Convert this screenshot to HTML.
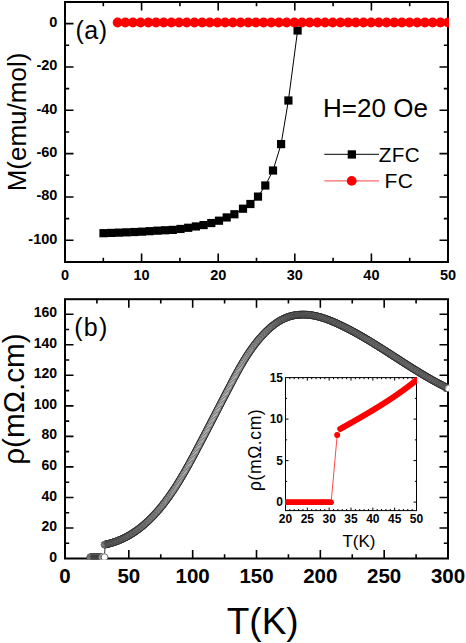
<!DOCTYPE html>
<html><head><meta charset="utf-8"><style>
html,body{margin:0;padding:0;background:#fff;}
svg{display:block;}
</style></head><body>
<svg width="466" height="643" viewBox="0 0 466 643">
<rect width="466" height="643" fill="#fff"/>
<defs><clipPath id="clipA"><rect x="60" y="0" width="389" height="270"/></clipPath><clipPath id="clipB"><rect x="0" y="290" width="449.1" height="269.7"/></clipPath><clipPath id="clipI"><rect x="285" y="377" width="132" height="135"/></clipPath></defs>
<rect x="65" y="2" width="383" height="260" fill="none" stroke="#000" stroke-width="2"/>
<path d="M103.3 262V257.8M103.3 2V6.2M141.6 262V253.5M141.6 2V10.5M179.9 262V257.8M179.9 2V6.2M218.2 262V253.5M218.2 2V10.5M256.5 262V257.8M256.5 2V6.2M294.8 262V253.5M294.8 2V10.5M333.1 262V257.8M333.1 2V6.2M371.4 262V253.5M371.4 2V10.5M409.7 262V257.8M409.7 2V6.2M65 240.3H73.5M448 240.3H439.5M65 218.63H69.2M448 218.63H443.8M65 196.96H73.5M448 196.96H439.5M65 175.29H69.2M448 175.29H443.8M65 153.62H73.5M448 153.62H439.5M65 131.95H69.2M448 131.95H443.8M65 110.28H73.5M448 110.28H439.5M65 88.61H69.2M448 88.61H443.8M65 66.94H73.5M448 66.94H439.5M65 45.27H69.2M448 45.27H443.8M65 23.6H73.5M448 23.6H439.5" stroke="#000" stroke-width="1.6" fill="none"/>
<text x="57.4" y="243.8" text-anchor="end" font-family="Liberation Sans, sans-serif" font-weight="bold" font-size="14.5">-100</text>
<text x="57.4" y="200.46" text-anchor="end" font-family="Liberation Sans, sans-serif" font-weight="bold" font-size="14.5">-80</text>
<text x="57.4" y="157.12" text-anchor="end" font-family="Liberation Sans, sans-serif" font-weight="bold" font-size="14.5">-60</text>
<text x="57.4" y="113.78" text-anchor="end" font-family="Liberation Sans, sans-serif" font-weight="bold" font-size="14.5">-40</text>
<text x="57.4" y="70.44" text-anchor="end" font-family="Liberation Sans, sans-serif" font-weight="bold" font-size="14.5">-20</text>
<text x="57.4" y="27.1" text-anchor="end" font-family="Liberation Sans, sans-serif" font-weight="bold" font-size="14.5">0</text>
<text x="65" y="280.3" text-anchor="middle" font-family="Liberation Sans, sans-serif" font-weight="bold" font-size="14.5">0</text>
<text x="141.6" y="280.3" text-anchor="middle" font-family="Liberation Sans, sans-serif" font-weight="bold" font-size="14.5">10</text>
<text x="218.2" y="280.3" text-anchor="middle" font-family="Liberation Sans, sans-serif" font-weight="bold" font-size="14.5">20</text>
<text x="294.8" y="280.3" text-anchor="middle" font-family="Liberation Sans, sans-serif" font-weight="bold" font-size="14.5">30</text>
<text x="371.4" y="280.3" text-anchor="middle" font-family="Liberation Sans, sans-serif" font-weight="bold" font-size="14.5">40</text>
<text x="448" y="280.3" text-anchor="middle" font-family="Liberation Sans, sans-serif" font-weight="bold" font-size="14.5">50</text>
<text transform="translate(25.6 122) rotate(-90)" text-anchor="middle" font-family="Liberation Sans, sans-serif" font-size="26">M(emu/mol)</text>
<text x="75.4" y="38.5" font-family="Liberation Sans, sans-serif" font-size="25" letter-spacing="0.6">(a)</text>
<text x="323.1" y="117.4" font-family="Liberation Sans, sans-serif" font-size="26">H=20 Oe</text>
<polyline points="103.5,233.2 111.2,232.92 118.9,232.64 126.6,232.34 134.3,232.03 142,231.67 149.7,231.17 157.4,230.67 165.1,230.26 172.8,229.9 180.5,228.96 188.2,227.78 195.9,226.45 203.6,225.07 211.3,223.05 219,220.7 226.7,217.43 234.4,214.25 243,208.7 250.4,204 258,196.6 265.3,185.5 273,170.5 281.1,144.1 288.4,100.5 297.6,30.5" fill="none" stroke="#000" stroke-width="1"/>
<g fill="#000"><rect x="99.4" y="229.1" width="8.2" height="8.2"/><rect x="107.1" y="228.82" width="8.2" height="8.2"/><rect x="114.8" y="228.54" width="8.2" height="8.2"/><rect x="122.5" y="228.24" width="8.2" height="8.2"/><rect x="130.2" y="227.93" width="8.2" height="8.2"/><rect x="137.9" y="227.57" width="8.2" height="8.2"/><rect x="145.6" y="227.07" width="8.2" height="8.2"/><rect x="153.3" y="226.57" width="8.2" height="8.2"/><rect x="161" y="226.16" width="8.2" height="8.2"/><rect x="168.7" y="225.8" width="8.2" height="8.2"/><rect x="176.4" y="224.86" width="8.2" height="8.2"/><rect x="184.1" y="223.68" width="8.2" height="8.2"/><rect x="191.8" y="222.35" width="8.2" height="8.2"/><rect x="199.5" y="220.97" width="8.2" height="8.2"/><rect x="207.2" y="218.95" width="8.2" height="8.2"/><rect x="214.9" y="216.6" width="8.2" height="8.2"/><rect x="222.6" y="213.33" width="8.2" height="8.2"/><rect x="230.3" y="210.15" width="8.2" height="8.2"/><rect x="238.9" y="204.6" width="8.2" height="8.2"/><rect x="246.3" y="199.9" width="8.2" height="8.2"/><rect x="253.9" y="192.5" width="8.2" height="8.2"/><rect x="261.2" y="181.4" width="8.2" height="8.2"/><rect x="268.9" y="166.4" width="8.2" height="8.2"/><rect x="277" y="140" width="8.2" height="8.2"/><rect x="284.3" y="96.4" width="8.2" height="8.2"/><rect x="293.5" y="26.4" width="8.2" height="8.2"/></g>
<g clip-path="url(#clipA)" fill="#f00"><circle cx="117.6" cy="22.5" r="4.9"/><circle cx="125.28" cy="22.5" r="4.9"/><circle cx="132.97" cy="22.5" r="4.9"/><circle cx="140.65" cy="22.5" r="4.9"/><circle cx="148.33" cy="22.5" r="4.9"/><circle cx="156.02" cy="22.5" r="4.9"/><circle cx="163.7" cy="22.5" r="4.9"/><circle cx="171.39" cy="22.5" r="4.9"/><circle cx="179.07" cy="22.5" r="4.9"/><circle cx="186.75" cy="22.5" r="4.9"/><circle cx="194.44" cy="22.5" r="4.9"/><circle cx="202.12" cy="22.5" r="4.9"/><circle cx="209.8" cy="22.5" r="4.9"/><circle cx="217.49" cy="22.5" r="4.9"/><circle cx="225.17" cy="22.5" r="4.9"/><circle cx="232.86" cy="22.5" r="4.9"/><circle cx="240.54" cy="22.5" r="4.9"/><circle cx="248.22" cy="22.5" r="4.9"/><circle cx="255.91" cy="22.5" r="4.9"/><circle cx="263.59" cy="22.5" r="4.9"/><circle cx="271.27" cy="22.5" r="4.9"/><circle cx="278.96" cy="22.5" r="4.9"/><circle cx="286.64" cy="22.5" r="4.9"/><circle cx="294.33" cy="22.5" r="4.9"/><circle cx="302.01" cy="22.5" r="4.9"/><circle cx="309.69" cy="22.5" r="4.9"/><circle cx="317.38" cy="22.5" r="4.9"/><circle cx="325.06" cy="22.5" r="4.9"/><circle cx="332.74" cy="22.5" r="4.9"/><circle cx="340.43" cy="22.5" r="4.9"/><circle cx="348.11" cy="22.5" r="4.9"/><circle cx="355.8" cy="22.5" r="4.9"/><circle cx="363.48" cy="22.5" r="4.9"/><circle cx="371.16" cy="22.5" r="4.9"/><circle cx="378.85" cy="22.5" r="4.9"/><circle cx="386.53" cy="22.5" r="4.9"/><circle cx="394.21" cy="22.5" r="4.9"/><circle cx="401.9" cy="22.5" r="4.9"/><circle cx="409.58" cy="22.5" r="4.9"/><circle cx="417.27" cy="22.5" r="4.9"/><circle cx="424.95" cy="22.5" r="4.9"/><circle cx="432.63" cy="22.5" r="4.9"/><circle cx="440.32" cy="22.5" r="4.9"/><circle cx="448" cy="22.5" r="4.9"/></g>
<line x1="324.3" y1="154.3" x2="379" y2="154.3" stroke="#333" stroke-width="1.2"/>
<rect x="347.7" y="150.3" width="8.3" height="8.3" fill="#000"/>
<text x="378.8" y="161.6" font-family="Liberation Sans, sans-serif" font-size="20.7" letter-spacing="0.3">ZFC</text>
<line x1="324.3" y1="180.9" x2="379" y2="180.9" stroke="#ff6a6a" stroke-width="1.3"/>
<circle cx="351.7" cy="180.9" r="4.9" fill="#f00"/>
<text x="384.6" y="188.3" font-family="Liberation Sans, sans-serif" font-size="21" letter-spacing="0.3">FC</text>
<rect x="65" y="299.2" width="383" height="259.3" fill="none" stroke="#000" stroke-width="2"/>
<path d="M96.92 558.5V554.3M96.92 299.2V303.4M128.83 558.5V550M128.83 299.2V307.7M160.75 558.5V554.3M160.75 299.2V303.4M192.67 558.5V550M192.67 299.2V307.7M224.59 558.5V554.3M224.59 299.2V303.4M256.5 558.5V550M256.5 299.2V307.7M288.42 558.5V554.3M288.42 299.2V303.4M320.34 558.5V550M320.34 299.2V307.7M352.26 558.5V554.3M352.26 299.2V303.4M384.18 558.5V550M384.18 299.2V307.7M416.09 558.5V554.3M416.09 299.2V303.4M65 543.24H69.2M448 543.24H443.8M65 527.97H73.5M448 527.97H439.5M65 512.71H69.2M448 512.71H443.8M65 497.44H73.5M448 497.44H439.5M65 482.18H69.2M448 482.18H443.8M65 466.91H73.5M448 466.91H439.5M65 451.64H69.2M448 451.64H443.8M65 436.38H73.5M448 436.38H439.5M65 421.12H69.2M448 421.12H443.8M65 405.85H73.5M448 405.85H439.5M65 390.59H69.2M448 390.59H443.8M65 375.32H73.5M448 375.32H439.5M65 360.06H69.2M448 360.06H443.8M65 344.79H73.5M448 344.79H439.5M65 329.52H69.2M448 329.52H443.8M65 314.26H73.5M448 314.26H439.5" stroke="#000" stroke-width="1.6" fill="none"/>
<text x="57" y="561.6" text-anchor="end" font-family="Liberation Sans, sans-serif" font-weight="bold" font-size="14">0</text>
<text x="57" y="531.07" text-anchor="end" font-family="Liberation Sans, sans-serif" font-weight="bold" font-size="14">20</text>
<text x="57" y="500.54" text-anchor="end" font-family="Liberation Sans, sans-serif" font-weight="bold" font-size="14">40</text>
<text x="57" y="470.01" text-anchor="end" font-family="Liberation Sans, sans-serif" font-weight="bold" font-size="14">60</text>
<text x="57" y="439.48" text-anchor="end" font-family="Liberation Sans, sans-serif" font-weight="bold" font-size="14">80</text>
<text x="57" y="408.95" text-anchor="end" font-family="Liberation Sans, sans-serif" font-weight="bold" font-size="14">100</text>
<text x="57" y="378.42" text-anchor="end" font-family="Liberation Sans, sans-serif" font-weight="bold" font-size="14">120</text>
<text x="57" y="347.89" text-anchor="end" font-family="Liberation Sans, sans-serif" font-weight="bold" font-size="14">140</text>
<text x="57" y="317.36" text-anchor="end" font-family="Liberation Sans, sans-serif" font-weight="bold" font-size="14">160</text>
<text x="65" y="582.6" text-anchor="middle" font-family="Liberation Sans, sans-serif" font-weight="bold" font-size="20.5">0</text>
<text x="128.83" y="582.6" text-anchor="middle" font-family="Liberation Sans, sans-serif" font-weight="bold" font-size="20.5">50</text>
<text x="192.67" y="582.6" text-anchor="middle" font-family="Liberation Sans, sans-serif" font-weight="bold" font-size="20.5">100</text>
<text x="256.5" y="582.6" text-anchor="middle" font-family="Liberation Sans, sans-serif" font-weight="bold" font-size="20.5">150</text>
<text x="320.34" y="582.6" text-anchor="middle" font-family="Liberation Sans, sans-serif" font-weight="bold" font-size="20.5">200</text>
<text x="384.18" y="582.6" text-anchor="middle" font-family="Liberation Sans, sans-serif" font-weight="bold" font-size="20.5">250</text>
<text x="448.01" y="582.6" text-anchor="middle" font-family="Liberation Sans, sans-serif" font-weight="bold" font-size="20.5">300</text>
<text x="74.3" y="336.1" font-family="Liberation Sans, sans-serif" font-size="25" letter-spacing="1.2">(b)</text>
<text transform="translate(24.2 399.1) rotate(-90)" text-anchor="middle" font-family="Liberation Sans, sans-serif" font-size="29.7">&#961;(m&#937;.cm)</text>
<text x="262.7" y="634.3" text-anchor="middle" font-family="Liberation Sans, sans-serif" font-size="37">T(K)</text>
<line x1="104.6" y1="553.5" x2="105" y2="548" stroke="#000" stroke-width="0.8"/>
<g clip-path="url(#clipB)" fill="#fff" stroke="#1a1a1a" stroke-width="0.6"><circle cx="90.2" cy="557.2" r="3.45"/><circle cx="90.8" cy="557.2" r="3.45"/><circle cx="91.4" cy="557.2" r="3.45"/><circle cx="92" cy="557.2" r="3.45"/><circle cx="92.6" cy="557.2" r="3.45"/><circle cx="93.2" cy="557.2" r="3.45"/><circle cx="93.8" cy="557.2" r="3.45"/><circle cx="94.4" cy="557.2" r="3.45"/><circle cx="95" cy="557.2" r="3.45"/><circle cx="95.6" cy="557.2" r="3.45"/><circle cx="96.2" cy="557.2" r="3.45"/><circle cx="96.8" cy="557.2" r="3.45"/><circle cx="97.4" cy="557.2" r="3.45"/><circle cx="98" cy="557.2" r="3.45"/><circle cx="98.6" cy="557.2" r="3.45"/><circle cx="99.2" cy="557.2" r="3.45"/><circle cx="99.8" cy="557.2" r="3.45"/><circle cx="100.4" cy="557.2" r="3.45"/><circle cx="101" cy="557.2" r="3.45"/><circle cx="101.6" cy="557.2" r="3.45"/><circle cx="104.5" cy="557.2" r="3.45"/><circle cx="104.46" cy="544.66" r="3.45"/><circle cx="105.1" cy="544.53" r="3.45"/><circle cx="105.74" cy="544.4" r="3.45"/><circle cx="106.38" cy="544.26" r="3.45"/><circle cx="107.02" cy="544.12" r="3.45"/><circle cx="107.66" cy="543.97" r="3.45"/><circle cx="108.3" cy="543.81" r="3.45"/><circle cx="108.94" cy="543.65" r="3.45"/><circle cx="109.58" cy="543.48" r="3.45"/><circle cx="110.22" cy="543.31" r="3.45"/><circle cx="110.86" cy="543.13" r="3.45"/><circle cx="111.5" cy="542.94" r="3.45"/><circle cx="112.14" cy="542.75" r="3.45"/><circle cx="112.78" cy="542.55" r="3.45"/><circle cx="113.42" cy="542.35" r="3.45"/><circle cx="114.06" cy="542.14" r="3.45"/><circle cx="114.7" cy="541.93" r="3.45"/><circle cx="115.34" cy="541.7" r="3.45"/><circle cx="115.98" cy="541.48" r="3.45"/><circle cx="116.62" cy="541.24" r="3.45"/><circle cx="117.26" cy="541" r="3.45"/><circle cx="117.9" cy="540.75" r="3.45"/><circle cx="118.54" cy="540.5" r="3.45"/><circle cx="119.18" cy="540.24" r="3.45"/><circle cx="119.82" cy="539.97" r="3.45"/><circle cx="120.46" cy="539.7" r="3.45"/><circle cx="121.1" cy="539.42" r="3.45"/><circle cx="121.74" cy="539.14" r="3.45"/><circle cx="122.38" cy="538.84" r="3.45"/><circle cx="123.02" cy="538.54" r="3.45"/><circle cx="123.66" cy="538.24" r="3.45"/><circle cx="124.3" cy="537.92" r="3.45"/><circle cx="124.94" cy="537.6" r="3.45"/><circle cx="125.58" cy="537.28" r="3.45"/><circle cx="126.22" cy="536.94" r="3.45"/><circle cx="126.86" cy="536.6" r="3.45"/><circle cx="127.5" cy="536.26" r="3.45"/><circle cx="128.14" cy="535.9" r="3.45"/><circle cx="128.78" cy="535.54" r="3.45"/><circle cx="129.42" cy="535.17" r="3.45"/><circle cx="130.06" cy="534.8" r="3.45"/><circle cx="130.7" cy="534.41" r="3.45"/><circle cx="131.34" cy="534.02" r="3.45"/><circle cx="131.98" cy="533.62" r="3.45"/><circle cx="132.62" cy="533.22" r="3.45"/><circle cx="133.26" cy="532.81" r="3.45"/><circle cx="133.9" cy="532.39" r="3.45"/><circle cx="134.54" cy="531.96" r="3.45"/><circle cx="135.18" cy="531.52" r="3.45"/><circle cx="135.82" cy="531.08" r="3.45"/><circle cx="136.46" cy="530.63" r="3.45"/><circle cx="137.1" cy="530.17" r="3.45"/><circle cx="137.74" cy="529.71" r="3.45"/><circle cx="138.38" cy="529.23" r="3.45"/><circle cx="139.02" cy="528.75" r="3.45"/><circle cx="139.66" cy="528.26" r="3.45"/><circle cx="140.3" cy="527.76" r="3.45"/><circle cx="140.94" cy="527.26" r="3.45"/><circle cx="141.58" cy="526.75" r="3.45"/><circle cx="142.22" cy="526.22" r="3.45"/><circle cx="142.86" cy="525.69" r="3.45"/><circle cx="143.5" cy="525.16" r="3.45"/><circle cx="144.14" cy="524.61" r="3.45"/><circle cx="144.78" cy="524.05" r="3.45"/><circle cx="145.42" cy="523.49" r="3.45"/><circle cx="146.06" cy="522.92" r="3.45"/><circle cx="146.7" cy="522.34" r="3.45"/><circle cx="147.34" cy="521.75" r="3.45"/><circle cx="147.98" cy="521.16" r="3.45"/><circle cx="148.62" cy="520.55" r="3.45"/><circle cx="149.26" cy="519.94" r="3.45"/><circle cx="149.9" cy="519.32" r="3.45"/><circle cx="150.54" cy="518.68" r="3.45"/><circle cx="151.18" cy="518.04" r="3.45"/><circle cx="151.82" cy="517.4" r="3.45"/><circle cx="152.46" cy="516.74" r="3.45"/><circle cx="153.1" cy="516.07" r="3.45"/><circle cx="153.74" cy="515.4" r="3.45"/><circle cx="154.38" cy="514.71" r="3.45"/><circle cx="155.02" cy="514.02" r="3.45"/><circle cx="155.66" cy="513.32" r="3.45"/><circle cx="156.3" cy="512.61" r="3.45"/><circle cx="156.94" cy="511.89" r="3.45"/><circle cx="157.58" cy="511.16" r="3.45"/><circle cx="158.22" cy="510.42" r="3.45"/><circle cx="158.86" cy="509.67" r="3.45"/><circle cx="159.5" cy="508.92" r="3.45"/><circle cx="160.14" cy="508.15" r="3.45"/><circle cx="160.78" cy="507.38" r="3.45"/><circle cx="161.42" cy="506.59" r="3.45"/><circle cx="162.06" cy="505.8" r="3.45"/><circle cx="162.7" cy="505" r="3.45"/><circle cx="163.34" cy="504.19" r="3.45"/><circle cx="163.98" cy="503.37" r="3.45"/><circle cx="164.62" cy="502.54" r="3.45"/><circle cx="165.26" cy="501.7" r="3.45"/><circle cx="165.9" cy="500.85" r="3.45"/><circle cx="166.54" cy="499.99" r="3.45"/><circle cx="167.18" cy="499.13" r="3.45"/><circle cx="167.82" cy="498.25" r="3.45"/><circle cx="168.46" cy="497.36" r="3.45"/><circle cx="169.1" cy="496.47" r="3.45"/><circle cx="169.74" cy="495.57" r="3.45"/><circle cx="170.38" cy="494.65" r="3.45"/><circle cx="171.02" cy="493.73" r="3.45"/><circle cx="171.66" cy="492.8" r="3.45"/><circle cx="172.3" cy="491.85" r="3.45"/><circle cx="172.94" cy="490.9" r="3.45"/><circle cx="173.58" cy="489.94" r="3.45"/><circle cx="174.22" cy="488.97" r="3.45"/><circle cx="174.86" cy="487.99" r="3.45"/><circle cx="175.5" cy="487" r="3.45"/><circle cx="176.14" cy="486" r="3.45"/><circle cx="176.78" cy="485" r="3.45"/><circle cx="177.42" cy="483.98" r="3.45"/><circle cx="178.06" cy="482.95" r="3.45"/><circle cx="178.7" cy="481.92" r="3.45"/><circle cx="179.34" cy="480.87" r="3.45"/><circle cx="179.98" cy="479.82" r="3.45"/><circle cx="180.62" cy="478.76" r="3.45"/><circle cx="181.26" cy="477.69" r="3.45"/><circle cx="181.9" cy="476.61" r="3.45"/><circle cx="182.54" cy="475.52" r="3.45"/><circle cx="183.18" cy="474.43" r="3.45"/><circle cx="183.82" cy="473.32" r="3.45"/><circle cx="184.46" cy="472.21" r="3.45"/><circle cx="185.1" cy="471.09" r="3.45"/><circle cx="185.74" cy="469.97" r="3.45"/><circle cx="186.38" cy="468.83" r="3.45"/><circle cx="187.02" cy="467.69" r="3.45"/><circle cx="187.66" cy="466.55" r="3.45"/><circle cx="188.3" cy="465.39" r="3.45"/><circle cx="188.94" cy="464.23" r="3.45"/><circle cx="189.58" cy="463.07" r="3.45"/><circle cx="190.22" cy="461.9" r="3.45"/><circle cx="190.86" cy="460.72" r="3.45"/><circle cx="191.5" cy="459.54" r="3.45"/><circle cx="192.14" cy="458.36" r="3.45"/><circle cx="192.78" cy="457.17" r="3.45"/><circle cx="193.42" cy="455.97" r="3.45"/><circle cx="194.06" cy="454.78" r="3.45"/><circle cx="194.7" cy="453.58" r="3.45"/><circle cx="195.34" cy="452.37" r="3.45"/><circle cx="195.98" cy="451.17" r="3.45"/><circle cx="196.62" cy="449.96" r="3.45"/><circle cx="197.26" cy="448.75" r="3.45"/><circle cx="197.9" cy="447.54" r="3.45"/><circle cx="198.54" cy="446.33" r="3.45"/><circle cx="199.18" cy="445.12" r="3.45"/><circle cx="199.82" cy="443.9" r="3.45"/><circle cx="200.46" cy="442.69" r="3.45"/><circle cx="201.1" cy="441.47" r="3.45"/><circle cx="201.74" cy="440.25" r="3.45"/><circle cx="202.38" cy="439.03" r="3.45"/><circle cx="203.02" cy="437.8" r="3.45"/><circle cx="203.66" cy="436.58" r="3.45"/><circle cx="204.3" cy="435.35" r="3.45"/><circle cx="204.94" cy="434.13" r="3.45"/><circle cx="205.58" cy="432.9" r="3.45"/><circle cx="206.22" cy="431.67" r="3.45"/><circle cx="206.86" cy="430.44" r="3.45"/><circle cx="207.5" cy="429.21" r="3.45"/><circle cx="208.14" cy="427.98" r="3.45"/><circle cx="208.78" cy="426.75" r="3.45"/><circle cx="209.42" cy="425.51" r="3.45"/><circle cx="210.06" cy="424.28" r="3.45"/><circle cx="210.7" cy="423.04" r="3.45"/><circle cx="211.34" cy="421.81" r="3.45"/><circle cx="211.98" cy="420.57" r="3.45"/><circle cx="212.62" cy="419.34" r="3.45"/><circle cx="213.26" cy="418.1" r="3.45"/><circle cx="213.9" cy="416.86" r="3.45"/><circle cx="214.54" cy="415.63" r="3.45"/><circle cx="215.18" cy="414.39" r="3.45"/><circle cx="215.82" cy="413.15" r="3.45"/><circle cx="216.46" cy="411.91" r="3.45"/><circle cx="217.1" cy="410.68" r="3.45"/><circle cx="217.74" cy="409.44" r="3.45"/><circle cx="218.38" cy="408.2" r="3.45"/><circle cx="219.02" cy="406.96" r="3.45"/><circle cx="219.66" cy="405.73" r="3.45"/><circle cx="220.3" cy="404.49" r="3.45"/><circle cx="220.94" cy="403.25" r="3.45"/><circle cx="221.58" cy="402.02" r="3.45"/><circle cx="222.22" cy="400.78" r="3.45"/><circle cx="222.86" cy="399.55" r="3.45"/><circle cx="223.5" cy="398.31" r="3.45"/><circle cx="224.14" cy="397.08" r="3.45"/><circle cx="224.78" cy="395.84" r="3.45"/><circle cx="225.42" cy="394.61" r="3.45"/><circle cx="226.06" cy="393.38" r="3.45"/><circle cx="226.7" cy="392.15" r="3.45"/><circle cx="227.34" cy="390.92" r="3.45"/><circle cx="227.98" cy="389.69" r="3.45"/><circle cx="228.62" cy="388.46" r="3.45"/><circle cx="229.26" cy="387.24" r="3.45"/><circle cx="229.9" cy="386.01" r="3.45"/><circle cx="230.54" cy="384.79" r="3.45"/><circle cx="231.18" cy="383.56" r="3.45"/><circle cx="231.82" cy="382.34" r="3.45"/><circle cx="232.46" cy="381.13" r="3.45"/><circle cx="233.1" cy="379.91" r="3.45"/><circle cx="233.74" cy="378.7" r="3.45"/><circle cx="234.38" cy="377.5" r="3.45"/><circle cx="235.02" cy="376.3" r="3.45"/><circle cx="235.66" cy="375.11" r="3.45"/><circle cx="236.3" cy="373.93" r="3.45"/><circle cx="236.94" cy="372.75" r="3.45"/><circle cx="237.58" cy="371.59" r="3.45"/><circle cx="238.22" cy="370.43" r="3.45"/><circle cx="238.86" cy="369.28" r="3.45"/><circle cx="239.5" cy="368.14" r="3.45"/><circle cx="240.14" cy="367.01" r="3.45"/><circle cx="240.78" cy="365.9" r="3.45"/><circle cx="241.42" cy="364.79" r="3.45"/><circle cx="242.06" cy="363.7" r="3.45"/><circle cx="242.7" cy="362.61" r="3.45"/><circle cx="243.34" cy="361.54" r="3.45"/><circle cx="243.98" cy="360.48" r="3.45"/><circle cx="244.62" cy="359.44" r="3.45"/><circle cx="245.26" cy="358.4" r="3.45"/><circle cx="245.9" cy="357.38" r="3.45"/><circle cx="246.54" cy="356.37" r="3.45"/><circle cx="247.18" cy="355.38" r="3.45"/><circle cx="247.82" cy="354.4" r="3.45"/><circle cx="248.46" cy="353.43" r="3.45"/><circle cx="249.1" cy="352.47" r="3.45"/><circle cx="249.74" cy="351.53" r="3.45"/><circle cx="250.38" cy="350.6" r="3.45"/><circle cx="251.02" cy="349.68" r="3.45"/><circle cx="251.66" cy="348.78" r="3.45"/><circle cx="252.3" cy="347.88" r="3.45"/><circle cx="252.94" cy="347.01" r="3.45"/><circle cx="253.58" cy="346.14" r="3.45"/><circle cx="254.22" cy="345.29" r="3.45"/><circle cx="254.86" cy="344.44" r="3.45"/><circle cx="255.5" cy="343.62" r="3.45"/><circle cx="256.14" cy="342.8" r="3.45"/><circle cx="256.78" cy="342" r="3.45"/><circle cx="257.42" cy="341.2" r="3.45"/><circle cx="258.06" cy="340.42" r="3.45"/><circle cx="258.7" cy="339.65" r="3.45"/><circle cx="259.34" cy="338.9" r="3.45"/><circle cx="259.98" cy="338.15" r="3.45"/><circle cx="260.62" cy="337.41" r="3.45"/><circle cx="261.26" cy="336.69" r="3.45"/><circle cx="261.9" cy="335.98" r="3.45"/><circle cx="262.54" cy="335.28" r="3.45"/><circle cx="263.18" cy="334.59" r="3.45"/><circle cx="263.82" cy="333.91" r="3.45"/><circle cx="264.46" cy="333.24" r="3.45"/><circle cx="265.1" cy="332.58" r="3.45"/><circle cx="265.74" cy="331.94" r="3.45"/><circle cx="266.38" cy="331.31" r="3.45"/><circle cx="267.02" cy="330.69" r="3.45"/><circle cx="267.66" cy="330.08" r="3.45"/><circle cx="268.3" cy="329.48" r="3.45"/><circle cx="268.94" cy="328.9" r="3.45"/><circle cx="269.58" cy="328.32" r="3.45"/><circle cx="270.22" cy="327.76" r="3.45"/><circle cx="270.86" cy="327.21" r="3.45"/><circle cx="271.5" cy="326.67" r="3.45"/><circle cx="272.14" cy="326.15" r="3.45"/><circle cx="272.78" cy="325.64" r="3.45"/><circle cx="273.42" cy="325.14" r="3.45"/><circle cx="274.06" cy="324.65" r="3.45"/><circle cx="274.7" cy="324.17" r="3.45"/><circle cx="275.34" cy="323.7" r="3.45"/><circle cx="275.98" cy="323.25" r="3.45"/><circle cx="276.62" cy="322.81" r="3.45"/><circle cx="277.26" cy="322.38" r="3.45"/><circle cx="277.9" cy="321.97" r="3.45"/><circle cx="278.54" cy="321.56" r="3.45"/><circle cx="279.18" cy="321.17" r="3.45"/><circle cx="279.82" cy="320.79" r="3.45"/><circle cx="280.46" cy="320.42" r="3.45"/><circle cx="281.1" cy="320.07" r="3.45"/><circle cx="281.74" cy="319.72" r="3.45"/><circle cx="282.38" cy="319.39" r="3.45"/><circle cx="283.02" cy="319.07" r="3.45"/><circle cx="283.66" cy="318.76" r="3.45"/><circle cx="284.3" cy="318.47" r="3.45"/><circle cx="284.94" cy="318.18" r="3.45"/><circle cx="285.58" cy="317.91" r="3.45"/><circle cx="286.22" cy="317.65" r="3.45"/><circle cx="286.86" cy="317.4" r="3.45"/><circle cx="287.5" cy="317.17" r="3.45"/><circle cx="288.14" cy="316.94" r="3.45"/><circle cx="288.78" cy="316.73" r="3.45"/><circle cx="289.42" cy="316.53" r="3.45"/><circle cx="290.06" cy="316.34" r="3.45"/><circle cx="290.7" cy="316.16" r="3.45"/><circle cx="291.34" cy="315.99" r="3.45"/><circle cx="291.98" cy="315.84" r="3.45"/><circle cx="292.62" cy="315.69" r="3.45"/><circle cx="293.26" cy="315.55" r="3.45"/><circle cx="293.9" cy="315.43" r="3.45"/><circle cx="294.54" cy="315.31" r="3.45"/><circle cx="295.18" cy="315.2" r="3.45"/><circle cx="295.82" cy="315.11" r="3.45"/><circle cx="296.46" cy="315.02" r="3.45"/><circle cx="297.1" cy="314.94" r="3.45"/><circle cx="297.74" cy="314.87" r="3.45"/><circle cx="298.38" cy="314.81" r="3.45"/><circle cx="299.02" cy="314.75" r="3.45"/><circle cx="299.66" cy="314.71" r="3.45"/><circle cx="300.3" cy="314.67" r="3.45"/><circle cx="300.94" cy="314.64" r="3.45"/><circle cx="301.58" cy="314.62" r="3.45"/><circle cx="302.22" cy="314.61" r="3.45"/><circle cx="302.86" cy="314.6" r="3.45"/><circle cx="303.5" cy="314.6" r="3.45"/><circle cx="304.14" cy="314.61" r="3.45"/><circle cx="304.78" cy="314.63" r="3.45"/><circle cx="305.42" cy="314.65" r="3.45"/><circle cx="306.06" cy="314.69" r="3.45"/><circle cx="306.7" cy="314.73" r="3.45"/><circle cx="307.34" cy="314.77" r="3.45"/><circle cx="307.98" cy="314.83" r="3.45"/><circle cx="308.62" cy="314.89" r="3.45"/><circle cx="309.26" cy="314.96" r="3.45"/><circle cx="309.9" cy="315.03" r="3.45"/><circle cx="310.54" cy="315.11" r="3.45"/><circle cx="311.18" cy="315.2" r="3.45"/><circle cx="311.82" cy="315.3" r="3.45"/><circle cx="312.46" cy="315.4" r="3.45"/><circle cx="313.1" cy="315.51" r="3.45"/><circle cx="313.74" cy="315.62" r="3.45"/><circle cx="314.38" cy="315.75" r="3.45"/><circle cx="315.02" cy="315.88" r="3.45"/><circle cx="315.66" cy="316.01" r="3.45"/><circle cx="316.3" cy="316.15" r="3.45"/><circle cx="316.94" cy="316.3" r="3.45"/><circle cx="317.58" cy="316.45" r="3.45"/><circle cx="318.22" cy="316.61" r="3.45"/><circle cx="318.86" cy="316.78" r="3.45"/><circle cx="319.5" cy="316.95" r="3.45"/><circle cx="320.14" cy="317.13" r="3.45"/><circle cx="320.78" cy="317.31" r="3.45"/><circle cx="321.42" cy="317.5" r="3.45"/><circle cx="322.06" cy="317.69" r="3.45"/><circle cx="322.7" cy="317.89" r="3.45"/><circle cx="323.34" cy="318.09" r="3.45"/><circle cx="323.98" cy="318.3" r="3.45"/><circle cx="324.62" cy="318.52" r="3.45"/><circle cx="325.26" cy="318.74" r="3.45"/><circle cx="325.9" cy="318.96" r="3.45"/><circle cx="326.54" cy="319.19" r="3.45"/><circle cx="327.18" cy="319.42" r="3.45"/><circle cx="327.82" cy="319.66" r="3.45"/><circle cx="328.46" cy="319.9" r="3.45"/><circle cx="329.1" cy="320.15" r="3.45"/><circle cx="329.74" cy="320.4" r="3.45"/><circle cx="330.38" cy="320.65" r="3.45"/><circle cx="331.02" cy="320.91" r="3.45"/><circle cx="331.66" cy="321.17" r="3.45"/><circle cx="332.3" cy="321.44" r="3.45"/><circle cx="332.94" cy="321.71" r="3.45"/><circle cx="333.58" cy="321.98" r="3.45"/><circle cx="334.22" cy="322.26" r="3.45"/><circle cx="334.86" cy="322.54" r="3.45"/><circle cx="335.5" cy="322.82" r="3.45"/><circle cx="336.14" cy="323.1" r="3.45"/><circle cx="336.78" cy="323.39" r="3.45"/><circle cx="337.42" cy="323.68" r="3.45"/><circle cx="338.06" cy="323.98" r="3.45"/><circle cx="338.7" cy="324.28" r="3.45"/><circle cx="339.34" cy="324.58" r="3.45"/><circle cx="339.98" cy="324.88" r="3.45"/><circle cx="340.62" cy="325.18" r="3.45"/><circle cx="341.26" cy="325.49" r="3.45"/><circle cx="341.9" cy="325.79" r="3.45"/><circle cx="342.54" cy="326.1" r="3.45"/><circle cx="343.18" cy="326.42" r="3.45"/><circle cx="343.82" cy="326.73" r="3.45"/><circle cx="344.46" cy="327.05" r="3.45"/><circle cx="345.1" cy="327.37" r="3.45"/><circle cx="345.74" cy="327.69" r="3.45"/><circle cx="346.38" cy="328.01" r="3.45"/><circle cx="347.02" cy="328.33" r="3.45"/><circle cx="347.66" cy="328.66" r="3.45"/><circle cx="348.3" cy="328.99" r="3.45"/><circle cx="348.94" cy="329.32" r="3.45"/><circle cx="349.58" cy="329.65" r="3.45"/><circle cx="350.22" cy="329.99" r="3.45"/><circle cx="350.86" cy="330.33" r="3.45"/><circle cx="351.5" cy="330.66" r="3.45"/><circle cx="352.14" cy="331.01" r="3.45"/><circle cx="352.78" cy="331.35" r="3.45"/><circle cx="353.42" cy="331.69" r="3.45"/><circle cx="354.06" cy="332.04" r="3.45"/><circle cx="354.7" cy="332.39" r="3.45"/><circle cx="355.34" cy="332.74" r="3.45"/><circle cx="355.98" cy="333.09" r="3.45"/><circle cx="356.62" cy="333.45" r="3.45"/><circle cx="357.26" cy="333.8" r="3.45"/><circle cx="357.9" cy="334.16" r="3.45"/><circle cx="358.54" cy="334.52" r="3.45"/><circle cx="359.18" cy="334.88" r="3.45"/><circle cx="359.82" cy="335.24" r="3.45"/><circle cx="360.46" cy="335.61" r="3.45"/><circle cx="361.1" cy="335.98" r="3.45"/><circle cx="361.74" cy="336.34" r="3.45"/><circle cx="362.38" cy="336.71" r="3.45"/><circle cx="363.02" cy="337.09" r="3.45"/><circle cx="363.66" cy="337.46" r="3.45"/><circle cx="364.3" cy="337.83" r="3.45"/><circle cx="364.94" cy="338.21" r="3.45"/><circle cx="365.58" cy="338.59" r="3.45"/><circle cx="366.22" cy="338.97" r="3.45"/><circle cx="366.86" cy="339.35" r="3.45"/><circle cx="367.5" cy="339.73" r="3.45"/><circle cx="368.14" cy="340.11" r="3.45"/><circle cx="368.78" cy="340.5" r="3.45"/><circle cx="369.42" cy="340.88" r="3.45"/><circle cx="370.06" cy="341.27" r="3.45"/><circle cx="370.7" cy="341.66" r="3.45"/><circle cx="371.34" cy="342.05" r="3.45"/><circle cx="371.98" cy="342.44" r="3.45"/><circle cx="372.62" cy="342.83" r="3.45"/><circle cx="373.26" cy="343.22" r="3.45"/><circle cx="373.9" cy="343.62" r="3.45"/><circle cx="374.54" cy="344.01" r="3.45"/><circle cx="375.18" cy="344.41" r="3.45"/><circle cx="375.82" cy="344.81" r="3.45"/><circle cx="376.46" cy="345.21" r="3.45"/><circle cx="377.1" cy="345.61" r="3.45"/><circle cx="377.74" cy="346.01" r="3.45"/><circle cx="378.38" cy="346.41" r="3.45"/><circle cx="379.02" cy="346.81" r="3.45"/><circle cx="379.66" cy="347.21" r="3.45"/><circle cx="380.3" cy="347.62" r="3.45"/><circle cx="380.94" cy="348.02" r="3.45"/><circle cx="381.58" cy="348.43" r="3.45"/><circle cx="382.22" cy="348.83" r="3.45"/><circle cx="382.86" cy="349.24" r="3.45"/><circle cx="383.5" cy="349.65" r="3.45"/><circle cx="384.14" cy="350.06" r="3.45"/><circle cx="384.78" cy="350.46" r="3.45"/><circle cx="385.42" cy="350.87" r="3.45"/><circle cx="386.06" cy="351.28" r="3.45"/><circle cx="386.7" cy="351.69" r="3.45"/><circle cx="387.34" cy="352.1" r="3.45"/><circle cx="387.98" cy="352.51" r="3.45"/><circle cx="388.62" cy="352.93" r="3.45"/><circle cx="389.26" cy="353.34" r="3.45"/><circle cx="389.9" cy="353.75" r="3.45"/><circle cx="390.54" cy="354.16" r="3.45"/><circle cx="391.18" cy="354.57" r="3.45"/><circle cx="391.82" cy="354.99" r="3.45"/><circle cx="392.46" cy="355.4" r="3.45"/><circle cx="393.1" cy="355.81" r="3.45"/><circle cx="393.74" cy="356.22" r="3.45"/><circle cx="394.38" cy="356.64" r="3.45"/><circle cx="395.02" cy="357.05" r="3.45"/><circle cx="395.66" cy="357.46" r="3.45"/><circle cx="396.3" cy="357.88" r="3.45"/><circle cx="396.94" cy="358.29" r="3.45"/><circle cx="397.58" cy="358.7" r="3.45"/><circle cx="398.22" cy="359.12" r="3.45"/><circle cx="398.86" cy="359.53" r="3.45"/><circle cx="399.5" cy="359.94" r="3.45"/><circle cx="400.14" cy="360.35" r="3.45"/><circle cx="400.78" cy="360.76" r="3.45"/><circle cx="401.42" cy="361.18" r="3.45"/><circle cx="402.06" cy="361.59" r="3.45"/><circle cx="402.7" cy="362" r="3.45"/><circle cx="403.34" cy="362.41" r="3.45"/><circle cx="403.98" cy="362.82" r="3.45"/><circle cx="404.62" cy="363.23" r="3.45"/><circle cx="405.26" cy="363.64" r="3.45"/><circle cx="405.9" cy="364.04" r="3.45"/><circle cx="406.54" cy="364.45" r="3.45"/><circle cx="407.18" cy="364.86" r="3.45"/><circle cx="407.82" cy="365.27" r="3.45"/><circle cx="408.46" cy="365.67" r="3.45"/><circle cx="409.1" cy="366.08" r="3.45"/><circle cx="409.74" cy="366.48" r="3.45"/><circle cx="410.38" cy="366.88" r="3.45"/><circle cx="411.02" cy="367.29" r="3.45"/><circle cx="411.66" cy="367.69" r="3.45"/><circle cx="412.3" cy="368.09" r="3.45"/><circle cx="412.94" cy="368.49" r="3.45"/><circle cx="413.58" cy="368.89" r="3.45"/><circle cx="414.22" cy="369.29" r="3.45"/><circle cx="414.86" cy="369.68" r="3.45"/><circle cx="415.5" cy="370.08" r="3.45"/><circle cx="416.14" cy="370.48" r="3.45"/><circle cx="416.78" cy="370.87" r="3.45"/><circle cx="417.42" cy="371.26" r="3.45"/><circle cx="418.06" cy="371.65" r="3.45"/><circle cx="418.7" cy="372.04" r="3.45"/><circle cx="419.34" cy="372.43" r="3.45"/><circle cx="419.98" cy="372.82" r="3.45"/><circle cx="420.62" cy="373.21" r="3.45"/><circle cx="421.26" cy="373.59" r="3.45"/><circle cx="421.9" cy="373.98" r="3.45"/><circle cx="422.54" cy="374.36" r="3.45"/><circle cx="423.18" cy="374.74" r="3.45"/><circle cx="423.82" cy="375.12" r="3.45"/><circle cx="424.46" cy="375.5" r="3.45"/><circle cx="425.1" cy="375.88" r="3.45"/><circle cx="425.74" cy="376.25" r="3.45"/><circle cx="426.38" cy="376.63" r="3.45"/><circle cx="427.02" cy="377" r="3.45"/><circle cx="427.66" cy="377.37" r="3.45"/><circle cx="428.3" cy="377.74" r="3.45"/><circle cx="428.94" cy="378.11" r="3.45"/><circle cx="429.58" cy="378.48" r="3.45"/><circle cx="430.22" cy="378.84" r="3.45"/><circle cx="430.86" cy="379.2" r="3.45"/><circle cx="431.5" cy="379.56" r="3.45"/><circle cx="432.14" cy="379.92" r="3.45"/><circle cx="432.78" cy="380.28" r="3.45"/><circle cx="433.42" cy="380.64" r="3.45"/><circle cx="434.06" cy="380.99" r="3.45"/><circle cx="434.7" cy="381.34" r="3.45"/><circle cx="435.34" cy="381.69" r="3.45"/><circle cx="435.98" cy="382.04" r="3.45"/><circle cx="436.62" cy="382.39" r="3.45"/><circle cx="437.26" cy="382.73" r="3.45"/><circle cx="437.9" cy="383.07" r="3.45"/><circle cx="438.54" cy="383.41" r="3.45"/><circle cx="439.18" cy="383.75" r="3.45"/><circle cx="439.82" cy="384.09" r="3.45"/><circle cx="440.46" cy="384.42" r="3.45"/><circle cx="441.1" cy="384.76" r="3.45"/><circle cx="441.74" cy="385.09" r="3.45"/><circle cx="442.38" cy="385.42" r="3.45"/><circle cx="443.02" cy="385.74" r="3.45"/><circle cx="443.66" cy="386.07" r="3.45"/><circle cx="444.3" cy="386.39" r="3.45"/><circle cx="444.94" cy="386.71" r="3.45"/><circle cx="445.58" cy="387.03" r="3.45"/><circle cx="446.22" cy="387.34" r="3.45"/><circle cx="446.86" cy="387.65" r="3.45"/><circle cx="447.5" cy="387.97" r="3.45"/><circle cx="448.14" cy="388.27" r="3.45"/></g>
<g clip-path="url(#clipB)" stroke="#000" stroke-width="5" stroke-linecap="butt"><line x1="104.46" y1="544.66" x2="107.66" y2="543.97" stroke-opacity="0.30"/><line x1="107.66" y1="543.97" x2="110.86" y2="543.13" stroke-opacity="0.30"/><line x1="110.86" y1="543.13" x2="114.06" y2="542.14" stroke-opacity="0.29"/><line x1="114.06" y1="542.14" x2="117.26" y2="541" stroke-opacity="0.28"/><line x1="117.26" y1="541" x2="120.46" y2="539.7" stroke-opacity="0.27"/><line x1="120.46" y1="539.7" x2="123.66" y2="538.24" stroke-opacity="0.25"/><line x1="123.66" y1="538.24" x2="126.86" y2="536.6" stroke-opacity="0.24"/><line x1="126.86" y1="536.6" x2="130.06" y2="534.8" stroke-opacity="0.23"/><line x1="130.06" y1="534.8" x2="133.26" y2="532.81" stroke-opacity="0.21"/><line x1="133.26" y1="532.81" x2="136.46" y2="530.63" stroke-opacity="0.20"/><line x1="136.46" y1="530.63" x2="139.66" y2="528.26" stroke-opacity="0.19"/><line x1="139.66" y1="528.26" x2="142.86" y2="525.69" stroke-opacity="0.17"/><line x1="142.86" y1="525.69" x2="146.06" y2="522.92" stroke-opacity="0.16"/><line x1="146.06" y1="522.92" x2="149.26" y2="519.94" stroke-opacity="0.14"/><line x1="149.26" y1="519.94" x2="152.46" y2="516.74" stroke-opacity="0.13"/><line x1="152.46" y1="516.74" x2="155.66" y2="513.32" stroke-opacity="0.12"/><line x1="155.66" y1="513.32" x2="158.86" y2="509.67" stroke-opacity="0.11"/><line x1="158.86" y1="509.67" x2="162.06" y2="505.8" stroke-opacity="0.09"/><line x1="162.06" y1="505.8" x2="165.26" y2="501.7" stroke-opacity="0.08"/><line x1="165.26" y1="501.7" x2="168.46" y2="497.36" stroke-opacity="0.07"/><line x1="168.46" y1="497.36" x2="171.66" y2="492.8" stroke-opacity="0.07"/><line x1="171.66" y1="492.8" x2="174.86" y2="487.99" stroke-opacity="0.06"/><line x1="174.86" y1="487.99" x2="178.06" y2="482.95" stroke-opacity="0.05"/><line x1="178.06" y1="482.95" x2="181.26" y2="477.69" stroke-opacity="0.04"/><line x1="181.26" y1="477.69" x2="184.46" y2="472.21" stroke-opacity="0.04"/><line x1="184.46" y1="472.21" x2="187.66" y2="466.55" stroke-opacity="0.03"/><line x1="187.66" y1="466.55" x2="190.86" y2="460.72" stroke-opacity="0.03"/><line x1="190.86" y1="460.72" x2="194.06" y2="454.78" stroke-opacity="0.03"/><line x1="194.06" y1="454.78" x2="197.26" y2="448.75" stroke-opacity="0.02"/><line x1="197.26" y1="448.75" x2="200.46" y2="442.69" stroke-opacity="0.02"/><line x1="200.46" y1="442.69" x2="203.66" y2="436.58" stroke-opacity="0.02"/><line x1="203.66" y1="436.58" x2="206.86" y2="430.44" stroke-opacity="0.02"/><line x1="206.86" y1="430.44" x2="210.06" y2="424.28" stroke-opacity="0.02"/><line x1="210.06" y1="424.28" x2="213.26" y2="418.1" stroke-opacity="0.02"/><line x1="213.26" y1="418.1" x2="216.46" y2="411.91" stroke-opacity="0.02"/><line x1="216.46" y1="411.91" x2="219.66" y2="405.73" stroke-opacity="0.02"/><line x1="219.66" y1="405.73" x2="222.86" y2="399.55" stroke-opacity="0.02"/><line x1="222.86" y1="399.55" x2="226.06" y2="393.38" stroke-opacity="0.02"/><line x1="226.06" y1="393.38" x2="229.26" y2="387.24" stroke-opacity="0.02"/><line x1="229.26" y1="387.24" x2="232.46" y2="381.13" stroke-opacity="0.02"/><line x1="232.46" y1="381.13" x2="235.66" y2="375.11" stroke-opacity="0.02"/><line x1="235.66" y1="375.11" x2="238.86" y2="369.28" stroke-opacity="0.03"/><line x1="238.86" y1="369.28" x2="242.06" y2="363.7" stroke-opacity="0.03"/><line x1="242.06" y1="363.7" x2="245.26" y2="358.4" stroke-opacity="0.04"/><line x1="245.26" y1="358.4" x2="248.46" y2="353.43" stroke-opacity="0.05"/><line x1="248.46" y1="353.43" x2="251.66" y2="348.78" stroke-opacity="0.06"/><line x1="251.66" y1="348.78" x2="254.86" y2="344.44" stroke-opacity="0.07"/><line x1="254.86" y1="344.44" x2="258.06" y2="340.42" stroke-opacity="0.09"/><line x1="258.06" y1="340.42" x2="261.26" y2="336.69" stroke-opacity="0.10"/><line x1="261.26" y1="336.69" x2="264.46" y2="333.24" stroke-opacity="0.12"/><line x1="264.46" y1="333.24" x2="267.66" y2="330.08" stroke-opacity="0.13"/><line x1="267.66" y1="330.08" x2="270.86" y2="327.21" stroke-opacity="0.15"/><line x1="270.86" y1="327.21" x2="274.06" y2="324.65" stroke-opacity="0.17"/><line x1="274.06" y1="324.65" x2="277.26" y2="322.38" stroke-opacity="0.19"/><line x1="277.26" y1="322.38" x2="280.46" y2="320.42" stroke-opacity="0.22"/><line x1="280.46" y1="320.42" x2="283.66" y2="318.76" stroke-opacity="0.24"/><line x1="283.66" y1="318.76" x2="286.86" y2="317.4" stroke-opacity="0.26"/><line x1="286.86" y1="317.4" x2="290.06" y2="316.34" stroke-opacity="0.28"/><line x1="290.06" y1="316.34" x2="293.26" y2="315.55" stroke-opacity="0.30"/><line x1="293.26" y1="315.55" x2="296.46" y2="315.02" stroke-opacity="0.30"/><line x1="296.46" y1="315.02" x2="299.66" y2="314.71" stroke-opacity="0.30"/><line x1="299.66" y1="314.71" x2="302.86" y2="314.6" stroke-opacity="0.30"/><line x1="302.86" y1="314.6" x2="306.06" y2="314.69" stroke-opacity="0.30"/><line x1="306.06" y1="314.69" x2="309.26" y2="314.96" stroke-opacity="0.30"/><line x1="309.26" y1="314.96" x2="312.46" y2="315.4" stroke-opacity="0.30"/><line x1="312.46" y1="315.4" x2="315.66" y2="316.01" stroke-opacity="0.30"/><line x1="315.66" y1="316.01" x2="318.86" y2="316.78" stroke-opacity="0.30"/><line x1="318.86" y1="316.78" x2="322.06" y2="317.69" stroke-opacity="0.29"/><line x1="322.06" y1="317.69" x2="325.26" y2="318.74" stroke-opacity="0.28"/><line x1="325.26" y1="318.74" x2="328.46" y2="319.9" stroke-opacity="0.28"/><line x1="328.46" y1="319.9" x2="331.66" y2="321.17" stroke-opacity="0.27"/><line x1="331.66" y1="321.17" x2="334.86" y2="322.54" stroke-opacity="0.26"/><line x1="334.86" y1="322.54" x2="338.06" y2="323.98" stroke-opacity="0.26"/><line x1="338.06" y1="323.98" x2="341.26" y2="325.49" stroke-opacity="0.25"/><line x1="341.26" y1="325.49" x2="344.46" y2="327.05" stroke-opacity="0.25"/><line x1="344.46" y1="327.05" x2="347.66" y2="328.66" stroke-opacity="0.24"/><line x1="347.66" y1="328.66" x2="350.86" y2="330.33" stroke-opacity="0.24"/><line x1="350.86" y1="330.33" x2="354.06" y2="332.04" stroke-opacity="0.24"/><line x1="354.06" y1="332.04" x2="357.26" y2="333.8" stroke-opacity="0.23"/><line x1="357.26" y1="333.8" x2="360.46" y2="335.61" stroke-opacity="0.23"/><line x1="360.46" y1="335.61" x2="363.66" y2="337.46" stroke-opacity="0.22"/><line x1="363.66" y1="337.46" x2="366.86" y2="339.35" stroke-opacity="0.22"/><line x1="366.86" y1="339.35" x2="370.06" y2="341.27" stroke-opacity="0.22"/><line x1="370.06" y1="341.27" x2="373.26" y2="343.22" stroke-opacity="0.22"/><line x1="373.26" y1="343.22" x2="376.46" y2="345.21" stroke-opacity="0.21"/><line x1="376.46" y1="345.21" x2="379.66" y2="347.21" stroke-opacity="0.21"/><line x1="379.66" y1="347.21" x2="382.86" y2="349.24" stroke-opacity="0.21"/><line x1="382.86" y1="349.24" x2="386.06" y2="351.28" stroke-opacity="0.21"/><line x1="386.06" y1="351.28" x2="389.26" y2="353.34" stroke-opacity="0.21"/><line x1="389.26" y1="353.34" x2="392.46" y2="355.4" stroke-opacity="0.21"/><line x1="392.46" y1="355.4" x2="395.66" y2="357.46" stroke-opacity="0.21"/><line x1="395.66" y1="357.46" x2="398.86" y2="359.53" stroke-opacity="0.21"/><line x1="398.86" y1="359.53" x2="402.06" y2="361.59" stroke-opacity="0.21"/><line x1="402.06" y1="361.59" x2="405.26" y2="363.64" stroke-opacity="0.21"/><line x1="405.26" y1="363.64" x2="408.46" y2="365.67" stroke-opacity="0.21"/><line x1="408.46" y1="365.67" x2="411.66" y2="367.69" stroke-opacity="0.21"/><line x1="411.66" y1="367.69" x2="414.86" y2="369.68" stroke-opacity="0.21"/><line x1="414.86" y1="369.68" x2="418.06" y2="371.65" stroke-opacity="0.22"/><line x1="418.06" y1="371.65" x2="421.26" y2="373.59" stroke-opacity="0.22"/><line x1="421.26" y1="373.59" x2="424.46" y2="375.5" stroke-opacity="0.22"/><line x1="424.46" y1="375.5" x2="427.66" y2="377.37" stroke-opacity="0.22"/><line x1="427.66" y1="377.37" x2="430.86" y2="379.2" stroke-opacity="0.23"/><line x1="430.86" y1="379.2" x2="434.06" y2="380.99" stroke-opacity="0.23"/><line x1="434.06" y1="380.99" x2="437.26" y2="382.73" stroke-opacity="0.23"/><line x1="437.26" y1="382.73" x2="440.46" y2="384.42" stroke-opacity="0.24"/><line x1="440.46" y1="384.42" x2="443.66" y2="386.07" stroke-opacity="0.24"/><line x1="443.66" y1="386.07" x2="446.86" y2="387.65" stroke-opacity="0.24"/></g>
<line clip-path="url(#clipB)" x1="90.5" y1="557.2" x2="101.5" y2="557.2" stroke="#000" stroke-width="5.5" stroke-opacity="0.4"/>
<g clip-path="url(#clipB)" fill="none" stroke="#111" stroke-width="0.75"><polyline points="106.43,547.63 107.09,547.48 107.76,547.33 108.43,547.18 109.1,547.01 109.76,546.85 110.43,546.67 111.1,546.49 111.77,546.3 112.43,546.11 113.1,545.91 113.77,545.7 114.43,545.49 115.1,545.27 115.77,545.05 116.44,544.82 117.1,544.58 117.77,544.33 118.44,544.08 119.1,543.83 119.77,543.56 120.44,543.29 121.1,543.01 121.77,542.73 122.43,542.44 123.1,542.14 123.77,541.84 124.43,541.53 125.1,541.21 125.76,540.88 126.43,540.55 127.09,540.21 127.76,539.86 128.42,539.51 129.09,539.15 129.75,538.78 130.42,538.41 131.08,538.02 131.74,537.63 132.41,537.24 133.07,536.83 133.73,536.42 134.4,536 135.06,535.57 135.72,535.14 136.38,534.7 137.05,534.25 137.71,533.79 138.37,533.32 139.03,532.85 139.69,532.37 140.35,531.88 141.02,531.38 141.68,530.87 142.34,530.36 143,529.84 143.66,529.31 144.32,528.77 144.97,528.23 145.63,527.67 146.29,527.11 146.95,526.54 147.61,525.96 148.27,525.37 148.92,524.78 149.58,524.17 150.24,523.56 150.9,522.94 151.55,522.31 152.21,521.67 152.87,521.03 153.52,520.37 154.18,519.71 154.83,519.03 155.49,518.35 156.14,517.66 156.8,516.96 157.45,516.25 158.11,515.53 158.76,514.81 159.41,514.07 160.07,513.33 160.72,512.57 161.37,511.81 162.03,511.04 162.68,510.26 163.33,509.47 163.98,508.67 164.63,507.86 165.29,507.05 165.94,506.22 166.59,505.39 167.24,504.54 167.89,503.69 168.54,502.83 169.19,501.96 169.84,501.08 170.49,500.19 171.14,499.29 171.79,498.38 172.44,497.47 173.09,496.54 173.74,495.6 174.39,494.66 175.03,493.7 175.68,492.74 176.33,491.77 176.98,490.78 177.63,489.79 178.27,488.79 178.92,487.78 179.57,486.76 180.22,485.73 180.86,484.69 181.51,483.65 182.16,482.59 182.8,481.53 183.45,480.46 184.1,479.38 184.74,478.29 185.39,477.19 186.03,476.09 186.68,474.98 187.32,473.86 187.97,472.73 188.61,471.59 189.26,470.45 189.9,469.31 190.54,468.15 191.19,466.99 191.83,465.83 192.47,464.65 193.12,463.48 193.76,462.3 194.4,461.11 195.05,459.92 195.69,458.73 196.33,457.53 196.97,456.33 197.61,455.13 198.25,453.92 198.9,452.72 199.54,451.51 200.18,450.3 200.82,449.09 201.46,447.87 202.1,446.66 202.74,445.44 203.38,444.22 204.02,443 204.66,441.78 205.3,440.56 205.94,439.33 206.59,438.11 207.23,436.88 207.87,435.65 208.51,434.42 209.15,433.19 209.79,431.96 210.43,430.73 211.07,429.5 211.71,428.27 212.35,427.03 212.99,425.8 213.63,424.56 214.27,423.33 214.91,422.09 215.55,420.85 216.19,419.62 216.83,418.38 217.47,417.14 218.11,415.91 218.75,414.67 219.39,413.43 220.03,412.19 220.67,410.95 221.31,409.72 221.95,408.48 222.59,407.24 223.23,406.01 223.87,404.77 224.51,403.53 225.15,402.3 225.79,401.06 226.43,399.83 227.07,398.6 227.71,397.36 228.35,396.13 228.99,394.9 229.63,393.67 230.27,392.44 230.91,391.21 231.55,389.99 232.19,388.76 232.83,387.54 233.46,386.32 234.1,385.09 234.74,383.88 235.38,382.66 236.02,381.45 236.66,380.25 237.29,379.05 237.93,377.86 238.57,376.68 239.2,375.5 239.84,374.34 240.47,373.18 241.11,372.03 241.74,370.89 242.37,369.76 243.01,368.65 243.64,367.54 244.27,366.45 244.91,365.37 245.54,364.3 246.17,363.24 246.8,362.2 247.43,361.17 248.06,360.15 248.69,359.14 249.32,358.15 249.95,357.17 250.58,356.21 251.21,355.25 251.84,354.31 252.47,353.39 253.09,352.48 253.72,351.58 254.35,350.69 254.97,349.82 255.6,348.96 256.23,348.11 256.85,347.27 257.48,346.45 258.1,345.64 258.73,344.84 259.36,344.06 259.98,343.29 260.6,342.52 261.23,341.77 261.85,341.03 262.48,340.31 263.1,339.59 263.72,338.89 264.35,338.19 264.97,337.51 265.59,336.84 266.21,336.18 266.83,335.53 267.45,334.9 268.07,334.28 268.69,333.67 269.31,333.07 269.92,332.48 270.54,331.91 271.15,331.34 271.77,330.79 272.38,330.25 273,329.73 273.61,329.21 274.22,328.71 274.83,328.22 275.44,327.75 276.05,327.28 276.66,326.83 277.26,326.39 277.87,325.96 278.47,325.54 279.08,325.14 279.68,324.74 280.28,324.36 280.89,323.99 281.49,323.64 282.09,323.29 282.68,322.96 283.28,322.64 283.88,322.33 284.47,322.03 285.07,321.75 285.66,321.47 286.25,321.21 286.85,320.96 287.44,320.72 288.03,320.49 288.62,320.27 289.21,320.06 289.79,319.87 290.38,319.69 290.97,319.51 291.56,319.35 292.15,319.19 292.74,319.05 293.33,318.91 293.92,318.79 294.52,318.67 295.11,318.56 295.7,318.46 296.3,318.37 296.89,318.29 297.49,318.22 298.08,318.15 298.68,318.09 299.28,318.04 299.87,318 300.47,317.96 301.07,317.94 301.67,317.92 302.27,317.91 302.87,317.9 303.47,317.9 304.07,317.91 304.67,317.93 305.27,317.95 305.88,317.98 306.48,318.02 307.08,318.06 307.69,318.11 308.29,318.17 308.89,318.23 309.5,318.31 310.1,318.38 310.71,318.47 311.32,318.56 311.92,318.65 312.53,318.76 313.14,318.87 313.74,318.98 314.35,319.11 314.96,319.24 315.57,319.37 316.18,319.51 316.8,319.66 317.41,319.81 318.02,319.97 318.63,320.13 319.25,320.3 319.86,320.48 320.48,320.66 321.09,320.85 321.71,321.04 322.33,321.23 322.94,321.44 323.56,321.64 324.18,321.85 324.8,322.07 325.42,322.29 326.04,322.52 326.66,322.75 327.28,322.98 327.91,323.22 328.53,323.47 329.15,323.71 329.78,323.97 330.4,324.22 331.03,324.48 331.65,324.75 332.28,325.01 332.91,325.28 333.53,325.56 334.16,325.83 334.79,326.11 335.42,326.4 336.05,326.69 336.68,326.97 337.31,327.27 337.94,327.56 338.57,327.86 339.2,328.16 339.83,328.46 340.47,328.77 341.1,329.07 341.73,329.38 342.36,329.69 342.99,330 343.63,330.32 344.26,330.64 344.89,330.95 345.52,331.27 346.16,331.6 346.79,331.92 347.42,332.25 348.05,332.58 348.69,332.91 349.32,333.24 349.95,333.58 350.59,333.92 351.22,334.26 351.85,334.6 352.49,334.94 353.12,335.28 353.75,335.63 354.39,335.98 355.02,336.33 355.65,336.68 356.29,337.04 356.92,337.39 357.55,337.75 358.19,338.11 358.82,338.47 359.46,338.84 360.09,339.2 360.73,339.57 361.36,339.94 362,340.31 362.63,340.68 363.27,341.05 363.9,341.43 364.54,341.8 365.17,342.18 365.81,342.56 366.44,342.94 367.08,343.32 367.71,343.71 368.35,344.09 368.99,344.48 369.62,344.86 370.26,345.25 370.89,345.64 371.53,346.03 372.17,346.43 372.8,346.82 373.44,347.21 374.08,347.61 374.71,348.01 375.35,348.4 375.99,348.8 376.63,349.2 377.26,349.6 377.9,350 378.54,350.41 379.18,350.81 379.81,351.21 380.45,351.62 381.09,352.02 381.73,352.43 382.37,352.84 383,353.24 383.64,353.65 384.28,354.06 384.92,354.47 385.56,354.88 386.2,355.29 386.84,355.7 387.47,356.11 388.11,356.52 388.75,356.94 389.39,357.35 390.03,357.76 390.67,358.17 391.31,358.58 391.95,359 392.59,359.41 393.23,359.82 393.87,360.24 394.51,360.65 395.15,361.06 395.79,361.48 396.43,361.89 397.07,362.3 397.71,362.72 398.35,363.13 399,363.54 399.64,363.95 400.28,364.36 400.92,364.78 401.56,365.19 402.2,365.6 402.84,366.01 403.48,366.42 404.13,366.83 404.77,367.24 405.41,367.64 406.05,368.05 406.69,368.46 407.34,368.87 407.98,369.27 408.62,369.68 409.26,370.08 409.91,370.48 410.55,370.89 411.19,371.29 411.84,371.69 412.48,372.09 413.12,372.49 413.77,372.89 414.41,373.28 415.05,373.68 415.7,374.08 416.34,374.47 416.98,374.86 417.63,375.25 418.27,375.65 418.92,376.03 419.56,376.42 420.2,376.81 420.85,377.19 421.49,377.58 422.14,377.96 422.78,378.34 423.43,378.72 424.07,379.1 424.72,379.48 425.36,379.85 426.01,380.23 426.65,380.6 427.3,380.97 427.94,381.34 428.59,381.71 429.24,382.07 429.88,382.44 430.53,382.8 431.17,383.16 431.82,383.52 432.47,383.88 433.11,384.23 433.76,384.59 434.41,384.94 435.05,385.29 435.7,385.64 436.35,385.99 436.99,386.33 437.64,386.67 438.29,387.01 438.94,387.35 439.58,387.69 440.23,388.02 440.88,388.35 441.53,388.68 442.17,389.01 442.82,389.34 443.47,389.66 444.12,389.98 444.77,390.3 445.41,390.62"/><polyline points="105.05,541.17 105.67,541.04 106.28,540.9 106.89,540.76 107.5,540.61 108.12,540.45 108.73,540.29 109.34,540.13 109.96,539.96 110.57,539.78 111.18,539.59 111.79,539.41 112.41,539.21 113.02,539.01 113.63,538.8 114.25,538.59 114.86,538.37 115.47,538.15 116.09,537.92 116.7,537.68 117.31,537.44 117.93,537.19 118.54,536.93 119.15,536.67 119.77,536.4 120.38,536.13 121,535.85 121.61,535.56 122.22,535.27 122.84,534.97 123.45,534.66 124.07,534.34 124.68,534.02 125.3,533.7 125.91,533.36 126.53,533.02 127.15,532.67 127.76,532.32 128.38,531.96 128.99,531.59 129.61,531.21 130.23,530.83 130.84,530.44 131.46,530.04 132.08,529.64 132.7,529.22 133.31,528.8 133.93,528.37 134.55,527.94 135.17,527.5 135.79,527.05 136.41,526.59 137.03,526.12 137.65,525.65 138.27,525.17 138.89,524.68 139.51,524.18 140.13,523.67 140.75,523.16 141.37,522.64 141.99,522.11 142.61,521.57 143.23,521.02 143.85,520.47 144.48,519.9 145.1,519.33 145.72,518.75 146.34,518.16 146.97,517.56 147.59,516.96 148.22,516.34 148.84,515.72 149.46,515.09 150.09,514.44 150.71,513.79 151.34,513.13 151.96,512.47 152.59,511.79 153.21,511.1 153.84,510.41 154.47,509.7 155.09,508.99 155.72,508.27 156.35,507.53 156.97,506.79 157.6,506.04 158.23,505.28 158.86,504.51 159.49,503.73 160.12,502.95 160.74,502.15 161.37,501.34 162,500.53 162.63,499.7 163.26,498.87 163.89,498.02 164.52,497.17 165.15,496.31 165.78,495.44 166.41,494.56 167.04,493.67 167.67,492.76 168.3,491.86 168.94,490.94 169.57,490.01 170.2,489.07 170.83,488.12 171.46,487.16 172.09,486.19 172.73,485.22 173.36,484.23 173.99,483.23 174.62,482.23 175.26,481.21 175.89,480.19 176.52,479.16 177.16,478.11 177.79,477.06 178.43,476 179.06,474.93 179.69,473.85 180.33,472.77 180.96,471.67 181.6,470.57 182.23,469.46 182.87,468.34 183.5,467.22 184.14,466.08 184.78,464.94 185.41,463.8 186.05,462.64 186.69,461.48 187.32,460.32 187.96,459.15 188.6,457.97 189.24,456.79 189.87,455.6 190.51,454.41 191.15,453.22 191.79,452.02 192.43,450.82 193.07,449.62 193.7,448.42 194.34,447.21 194.98,446 195.62,444.79 196.26,443.58 196.9,442.37 197.54,441.15 198.18,439.93 198.82,438.71 199.46,437.49 200.1,436.27 200.74,435.05 201.38,433.83 202.01,432.6 202.65,431.37 203.29,430.15 203.93,428.92 204.57,427.69 205.21,426.46 205.85,425.23 206.49,423.99 207.13,422.76 207.77,421.53 208.41,420.29 209.05,419.06 209.69,417.82 210.33,416.58 210.97,415.35 211.61,414.11 212.25,412.87 212.89,411.64 213.53,410.4 214.17,409.16 214.81,407.92 215.45,406.69 216.09,405.45 216.73,404.21 217.37,402.97 218.01,401.74 218.65,400.5 219.29,399.26 219.93,398.03 220.57,396.79 221.21,395.56 221.85,394.32 222.49,393.09 223.13,391.86 223.77,390.63 224.41,389.39 225.05,388.16 225.69,386.94 226.34,385.71 226.98,384.48 227.62,383.26 228.26,382.03 228.9,380.81 229.54,379.59 230.18,378.37 230.83,377.16 231.47,375.95 232.11,374.74 232.76,373.55 233.4,372.36 234.04,371.17 234.69,370 235.33,368.83 235.98,367.67 236.63,366.52 237.27,365.38 237.92,364.25 238.57,363.13 239.22,362.02 239.86,360.93 240.51,359.84 241.16,358.77 241.81,357.71 242.46,356.66 243.11,355.62 243.76,354.6 244.41,353.59 245.06,352.59 245.71,351.6 246.36,350.63 247.02,349.67 247.67,348.72 248.32,347.78 248.97,346.86 249.63,345.95 250.28,345.05 250.93,344.17 251.59,343.3 252.24,342.44 252.9,341.59 253.55,340.75 254.21,339.93 254.86,339.12 255.52,338.32 256.17,337.53 256.83,336.76 257.48,335.99 258.14,335.24 258.8,334.5 259.45,333.76 260.11,333.04 260.77,332.33 261.43,331.63 262.09,330.95 262.75,330.27 263.41,329.6 264.07,328.95 264.73,328.31 265.4,327.68 266.06,327.06 266.73,326.45 267.39,325.85 268.06,325.27 268.72,324.7 269.39,324.14 270.06,323.59 270.73,323.05 271.4,322.52 272.07,322.01 272.74,321.51 273.42,321.02 274.09,320.55 274.77,320.08 275.44,319.63 276.12,319.19 276.8,318.76 277.48,318.34 278.16,317.94 278.84,317.55 279.52,317.17 280.2,316.8 280.88,316.45 281.57,316.11 282.25,315.78 282.94,315.46 283.63,315.16 284.31,314.86 285,314.58 285.69,314.32 286.38,314.06 287.07,313.82 287.77,313.59 288.46,313.37 289.15,313.17 289.84,312.98 290.53,312.79 291.22,312.63 291.91,312.47 292.6,312.32 293.29,312.19 293.97,312.06 294.66,311.95 295.34,311.84 296.03,311.75 296.71,311.66 297.4,311.59 298.08,311.52 298.77,311.46 299.45,311.41 300.13,311.37 300.81,311.34 301.49,311.32 302.17,311.31 302.85,311.3 303.53,311.3 304.21,311.31 304.89,311.33 305.57,311.36 306.24,311.39 306.92,311.43 307.6,311.48 308.27,311.54 308.95,311.6 309.63,311.68 310.3,311.75 310.98,311.84 311.65,311.93 312.33,312.04 313,312.14 313.67,312.26 314.34,312.38 315.02,312.51 315.69,312.64 316.36,312.78 317.03,312.93 317.7,313.09 318.37,313.25 319.03,313.41 319.7,313.59 320.37,313.77 321.03,313.95 321.7,314.14 322.36,314.33 323.03,314.54 323.69,314.74 324.35,314.95 325.02,315.17 325.68,315.39 326.34,315.62 327,315.85 327.66,316.08 328.32,316.32 328.98,316.57 329.64,316.82 330.29,317.07 330.95,317.33 331.61,317.59 332.26,317.85 332.92,318.12 333.57,318.39 334.23,318.67 334.88,318.95 335.54,319.23 336.19,319.51 336.84,319.8 337.49,320.09 338.14,320.39 338.79,320.68 339.44,320.98 340.09,321.28 340.74,321.59 341.39,321.89 342.04,322.2 342.69,322.51 343.34,322.82 343.98,323.14 344.63,323.45 345.28,323.77 345.93,324.09 346.57,324.41 347.22,324.74 347.87,325.06 348.52,325.39 349.17,325.72 349.81,326.06 350.46,326.39 351.11,326.73 351.75,327.07 352.4,327.41 353.05,327.75 353.7,328.1 354.34,328.44 354.99,328.79 355.64,329.14 356.28,329.49 356.93,329.85 357.58,330.2 358.22,330.56 358.87,330.92 359.51,331.28 360.16,331.64 360.81,332.01 361.45,332.38 362.1,332.74 362.74,333.11 363.39,333.49 364.03,333.86 364.68,334.23 365.32,334.61 365.97,334.99 366.61,335.37 367.26,335.75 367.9,336.13 368.55,336.51 369.19,336.9 369.84,337.28 370.48,337.67 371.13,338.06 371.77,338.45 372.41,338.84 373.06,339.23 373.7,339.62 374.35,340.02 374.99,340.41 375.63,340.81 376.28,341.21 376.92,341.61 377.56,342.01 378.21,342.41 378.85,342.81 379.49,343.21 380.14,343.61 380.78,344.02 381.42,344.42 382.06,344.83 382.71,345.23 383.35,345.64 383.99,346.05 384.63,346.46 385.27,346.86 385.92,347.27 386.56,347.68 387.2,348.09 387.84,348.5 388.48,348.91 389.12,349.33 389.76,349.74 390.41,350.15 391.05,350.56 391.69,350.97 392.33,351.39 392.97,351.8 393.61,352.21 394.25,352.63 394.89,353.04 395.53,353.45 396.17,353.87 396.81,354.28 397.45,354.69 398.09,355.1 398.73,355.52 399.37,355.93 400.01,356.34 400.65,356.75 401.29,357.17 401.93,357.58 402.57,357.99 403.2,358.4 403.84,358.81 404.48,359.22 405.12,359.63 405.76,360.04 406.4,360.45 407.04,360.85 407.67,361.26 408.31,361.67 408.95,362.07 409.59,362.48 410.23,362.88 410.86,363.29 411.5,363.69 412.14,364.09 412.78,364.49 413.41,364.89 414.05,365.29 414.69,365.69 415.33,366.09 415.96,366.48 416.6,366.88 417.24,367.27 417.87,367.67 418.51,368.06 419.14,368.45 419.78,368.84 420.42,369.23 421.05,369.61 421.69,370 422.33,370.38 422.96,370.77 423.6,371.15 424.23,371.53 424.87,371.91 425.5,372.28 426.14,372.66 426.77,373.03 427.41,373.41 428.04,373.78 428.68,374.15 429.31,374.52 429.95,374.88 430.58,375.25 431.22,375.61 431.85,375.97 432.48,376.33 433.12,376.69 433.75,377.04 434.39,377.4 435.02,377.75 435.65,378.1 436.29,378.45 436.92,378.8 437.55,379.14 438.19,379.48 438.82,379.82 439.45,380.16 440.09,380.5 440.72,380.83 441.35,381.17 441.99,381.5 442.62,381.83 443.25,382.15 443.88,382.48 444.52,382.8 445.15,383.12 445.78,383.44 446.41,383.75 447.04,384.07 447.68,384.38 448.31,384.69"/></g>
<rect x="285.5" y="377.6" width="131" height="133" fill="#fff" stroke="#000" stroke-width="1"/>
<path d="M289.87 510.6V509M289.87 377.6V379.2M294.23 510.6V509M294.23 377.6V379.2M298.6 510.6V509M298.6 377.6V379.2M302.97 510.6V509M302.97 377.6V379.2M307.33 510.6V507.6M307.33 377.6V380.6M311.7 510.6V509M311.7 377.6V379.2M316.07 510.6V509M316.07 377.6V379.2M320.43 510.6V509M320.43 377.6V379.2M324.8 510.6V509M324.8 377.6V379.2M329.17 510.6V507.6M329.17 377.6V380.6M333.53 510.6V509M333.53 377.6V379.2M337.9 510.6V509M337.9 377.6V379.2M342.27 510.6V509M342.27 377.6V379.2M346.63 510.6V509M346.63 377.6V379.2M351 510.6V507.6M351 377.6V380.6M355.37 510.6V509M355.37 377.6V379.2M359.73 510.6V509M359.73 377.6V379.2M364.1 510.6V509M364.1 377.6V379.2M368.47 510.6V509M368.47 377.6V379.2M372.83 510.6V507.6M372.83 377.6V380.6M377.2 510.6V509M377.2 377.6V379.2M381.57 510.6V509M381.57 377.6V379.2M385.93 510.6V509M385.93 377.6V379.2M390.3 510.6V509M390.3 377.6V379.2M394.67 510.6V507.6M394.67 377.6V380.6M399.03 510.6V509M399.03 377.6V379.2M403.4 510.6V509M403.4 377.6V379.2M407.77 510.6V509M407.77 377.6V379.2M412.13 510.6V509M412.13 377.6V379.2M285.5 502.1H288.5M416.5 502.1H413.5M285.5 481.35H287.1M416.5 481.35H414.9M285.5 460.6H288.5M416.5 460.6H413.5M285.5 439.85H287.1M416.5 439.85H414.9M285.5 419.1H288.5M416.5 419.1H413.5M285.5 398.35H287.1M416.5 398.35H414.9" stroke="#000" stroke-width="1" fill="none"/>
<text x="283" y="506.4" text-anchor="end" font-family="Liberation Sans, sans-serif" font-weight="bold" font-size="12">0</text>
<text x="283" y="464.9" text-anchor="end" font-family="Liberation Sans, sans-serif" font-weight="bold" font-size="12">5</text>
<text x="283" y="423.4" text-anchor="end" font-family="Liberation Sans, sans-serif" font-weight="bold" font-size="12">10</text>
<text x="283" y="381.9" text-anchor="end" font-family="Liberation Sans, sans-serif" font-weight="bold" font-size="12">15</text>
<text x="285.5" y="522.8" text-anchor="middle" font-family="Liberation Sans, sans-serif" font-weight="bold" font-size="12">20</text>
<text x="307.33" y="522.8" text-anchor="middle" font-family="Liberation Sans, sans-serif" font-weight="bold" font-size="12">25</text>
<text x="329.17" y="522.8" text-anchor="middle" font-family="Liberation Sans, sans-serif" font-weight="bold" font-size="12">30</text>
<text x="351" y="522.8" text-anchor="middle" font-family="Liberation Sans, sans-serif" font-weight="bold" font-size="12">35</text>
<text x="372.83" y="522.8" text-anchor="middle" font-family="Liberation Sans, sans-serif" font-weight="bold" font-size="12">40</text>
<text x="394.67" y="522.8" text-anchor="middle" font-family="Liberation Sans, sans-serif" font-weight="bold" font-size="12">45</text>
<text x="416.5" y="522.8" text-anchor="middle" font-family="Liberation Sans, sans-serif" font-weight="bold" font-size="12">50</text>
<text transform="translate(261 449.9) rotate(-90)" text-anchor="middle" font-family="Liberation Sans, sans-serif" font-size="17.5" letter-spacing="0.6">&#961;(m&#937;.cm)</text>
<text x="359" y="547" text-anchor="middle" font-family="Liberation Sans, sans-serif" font-size="17">T(K)</text>
<g clip-path="url(#clipI)">
<line x1="331.2" y1="502" x2="337.2" y2="435.1" stroke="#f33" stroke-width="0.9"/>
<polyline points="340.26,428.92 340.53,428.77 340.79,428.63 341.05,428.48 341.32,428.33 341.58,428.18 341.84,428.03 342.11,427.88 342.37,427.74 342.64,427.59 342.9,427.44 343.16,427.29 343.43,427.14 343.69,426.99 343.95,426.85 344.22,426.7 344.48,426.55 344.75,426.4 345.01,426.25 345.27,426.1 345.54,425.96 345.8,425.81 346.06,425.66 346.33,425.51 346.59,425.36 346.86,425.21 347.12,425.06 347.38,424.92 347.65,424.77 347.91,424.62 348.17,424.47 348.44,424.32 348.7,424.17 348.96,424.02 349.23,423.87 349.49,423.73 349.75,423.58 350.02,423.43 350.28,423.28 350.54,423.13 350.81,422.98 351.07,422.83 351.33,422.68 351.6,422.53 351.86,422.38 352.12,422.23 352.39,422.08 352.65,421.94 352.91,421.79 353.18,421.64 353.44,421.49 353.7,421.34 353.97,421.19 354.23,421.04 354.49,420.89 354.75,420.74 355.02,420.59 355.28,420.44 355.54,420.29 355.81,420.14 356.07,419.99 356.33,419.84 356.59,419.69 356.86,419.54 357.12,419.39 357.38,419.24 357.64,419.09 357.91,418.94 358.17,418.78 358.43,418.63 358.69,418.48 358.96,418.33 359.22,418.18 359.48,418.03 359.74,417.88 360,417.73 360.27,417.58 360.53,417.43 360.79,417.27 361.05,417.12 361.31,416.97 361.58,416.82 361.84,416.67 362.1,416.52 362.36,416.36 362.62,416.21 362.88,416.06 363.14,415.91 363.41,415.76 363.67,415.6 363.93,415.45 364.19,415.3 364.45,415.15 364.71,414.99 364.97,414.84 365.23,414.69 365.5,414.54 365.76,414.38 366.02,414.23 366.28,414.08 366.54,413.92 366.8,413.77 367.06,413.62 367.32,413.46 367.58,413.31 367.84,413.15 368.1,413 368.36,412.85 368.62,412.69 368.88,412.54 369.14,412.38 369.4,412.23 369.66,412.07 369.92,411.92 370.18,411.76 370.44,411.61 370.7,411.45 370.96,411.3 371.22,411.14 371.48,410.99 371.74,410.83 372,410.68 372.26,410.52 372.52,410.37 372.78,410.21 373.04,410.05 373.29,409.9 373.55,409.74 373.81,409.58 374.07,409.43 374.33,409.27 374.59,409.11 374.85,408.96 375.1,408.8 375.36,408.64 375.62,408.49 375.88,408.33 376.14,408.17 376.39,408.01 376.65,407.85 376.91,407.7 377.17,407.54 377.43,407.38 377.68,407.22 377.94,407.06 378.2,406.9 378.45,406.74 378.71,406.59 378.97,406.43 379.23,406.27 379.48,406.11 379.74,405.95 380,405.79 380.25,405.63 380.51,405.47 380.77,405.31 381.02,405.15 381.28,404.99 381.53,404.82 381.79,404.66 382.05,404.5 382.3,404.34 382.56,404.18 382.81,404.02 383.07,403.86 383.32,403.69 383.58,403.53 383.84,403.37 384.09,403.21 384.35,403.05 384.6,402.88 384.86,402.72 385.11,402.56 385.36,402.39 385.62,402.23 385.87,402.07 386.13,401.9 386.38,401.74 386.64,401.57 386.89,401.41 387.14,401.25 387.4,401.08 387.65,400.92 387.9,400.75 388.16,400.59 388.41,400.42 388.66,400.26 388.92,400.09 389.17,399.92 389.42,399.76 389.68,399.59 389.93,399.43 390.18,399.26 390.43,399.09 390.69,398.92 390.94,398.76 391.19,398.59 391.44,398.42 391.69,398.25 391.95,398.09 392.2,397.92 392.45,397.75 392.7,397.58 392.95,397.41 393.2,397.24 393.45,397.07 393.7,396.9 393.95,396.73 394.2,396.57 394.45,396.4 394.7,396.22 394.96,396.05 395.21,395.88 395.45,395.71 395.7,395.54 395.95,395.37 396.2,395.2 396.45,395.03 396.7,394.86 396.95,394.68 397.2,394.51 397.45,394.34 397.7,394.17 397.95,393.99 398.19,393.82 398.44,393.65 398.69,393.47 398.94,393.3 399.19,393.12 399.43,392.95 399.68,392.77 399.93,392.6 400.18,392.43 400.42,392.25 400.67,392.07 400.92,391.9 401.16,391.72 401.41,391.55 401.66,391.37 401.9,391.19 402.15,391.02 402.4,390.84 402.64,390.66 402.89,390.48 403.13,390.31 403.38,390.13 403.62,389.95 403.87,389.77 404.11,389.59 404.36,389.41 404.6,389.23 404.85,389.05 405.09,388.87 405.34,388.69 405.58,388.51 405.82,388.33 406.07,388.15 406.31,387.97 406.55,387.79 406.8,387.61 407.04,387.43 407.28,387.24 407.53,387.06 407.77,386.88 408.01,386.7 408.25,386.51 408.5,386.33 408.74,386.15 408.98,385.96 409.22,385.78 409.46,385.59 409.7,385.41 409.95,385.22 410.19,385.04 410.43,384.85 410.67,384.67 410.91,384.48 411.15,384.3 411.39,384.11 411.63,383.92 411.87,383.73 412.11,383.55 412.35,383.36 412.59,383.17 412.83,382.98 413.07,382.79 413.3,382.61 413.54,382.42 413.78,382.23 414.02,382.04 414.26,381.85 414.49,381.66 414.73,381.47 414.97,381.28 415.21,381.09 415.44,380.89 415.68,380.7 415.92,380.51 416.16,380.32 416.39,380.13" fill="none" stroke="#f00" stroke-width="6" stroke-linecap="round"/>
<g fill="#f00"><circle cx="285.5" cy="502.3" r="2.8"/><circle cx="286.3" cy="502.3" r="2.8"/><circle cx="287.1" cy="502.3" r="2.8"/><circle cx="287.9" cy="502.3" r="2.8"/><circle cx="288.7" cy="502.3" r="2.8"/><circle cx="289.5" cy="502.3" r="2.8"/><circle cx="290.3" cy="502.3" r="2.8"/><circle cx="291.1" cy="502.3" r="2.8"/><circle cx="291.9" cy="502.3" r="2.8"/><circle cx="292.7" cy="502.3" r="2.8"/><circle cx="293.5" cy="502.3" r="2.8"/><circle cx="294.3" cy="502.3" r="2.8"/><circle cx="295.1" cy="502.3" r="2.8"/><circle cx="295.9" cy="502.3" r="2.8"/><circle cx="296.7" cy="502.3" r="2.8"/><circle cx="297.5" cy="502.3" r="2.8"/><circle cx="298.3" cy="502.3" r="2.8"/><circle cx="299.1" cy="502.3" r="2.8"/><circle cx="299.9" cy="502.3" r="2.8"/><circle cx="300.7" cy="502.3" r="2.8"/><circle cx="301.5" cy="502.3" r="2.8"/><circle cx="302.3" cy="502.3" r="2.8"/><circle cx="303.1" cy="502.3" r="2.8"/><circle cx="303.9" cy="502.3" r="2.8"/><circle cx="304.7" cy="502.3" r="2.8"/><circle cx="305.5" cy="502.3" r="2.8"/><circle cx="306.3" cy="502.3" r="2.8"/><circle cx="307.1" cy="502.3" r="2.8"/><circle cx="307.9" cy="502.3" r="2.8"/><circle cx="308.7" cy="502.3" r="2.8"/><circle cx="309.5" cy="502.3" r="2.8"/><circle cx="310.3" cy="502.3" r="2.8"/><circle cx="311.1" cy="502.3" r="2.8"/><circle cx="311.9" cy="502.3" r="2.8"/><circle cx="312.7" cy="502.3" r="2.8"/><circle cx="313.5" cy="502.3" r="2.8"/><circle cx="314.3" cy="502.3" r="2.8"/><circle cx="315.1" cy="502.3" r="2.8"/><circle cx="315.9" cy="502.3" r="2.8"/><circle cx="316.7" cy="502.3" r="2.8"/><circle cx="317.5" cy="502.3" r="2.8"/><circle cx="318.3" cy="502.3" r="2.8"/><circle cx="319.1" cy="502.3" r="2.8"/><circle cx="319.9" cy="502.3" r="2.8"/><circle cx="320.7" cy="502.3" r="2.8"/><circle cx="321.5" cy="502.3" r="2.8"/><circle cx="322.3" cy="502.3" r="2.8"/><circle cx="323.1" cy="502.3" r="2.8"/><circle cx="323.9" cy="502.3" r="2.8"/><circle cx="324.7" cy="502.3" r="2.8"/><circle cx="325.5" cy="502.3" r="2.8"/><circle cx="326.3" cy="502.3" r="2.8"/><circle cx="327.1" cy="502.3" r="2.8"/><circle cx="327.9" cy="502.3" r="2.8"/><circle cx="328.7" cy="502.3" r="2.8"/><circle cx="329.5" cy="502.3" r="2.8"/><circle cx="330.3" cy="502.3" r="2.8"/><circle cx="331.1" cy="502.3" r="2.8"/><circle cx="337.2" cy="435.1" r="3"/></g>
</g>
</svg>
</body></html>
